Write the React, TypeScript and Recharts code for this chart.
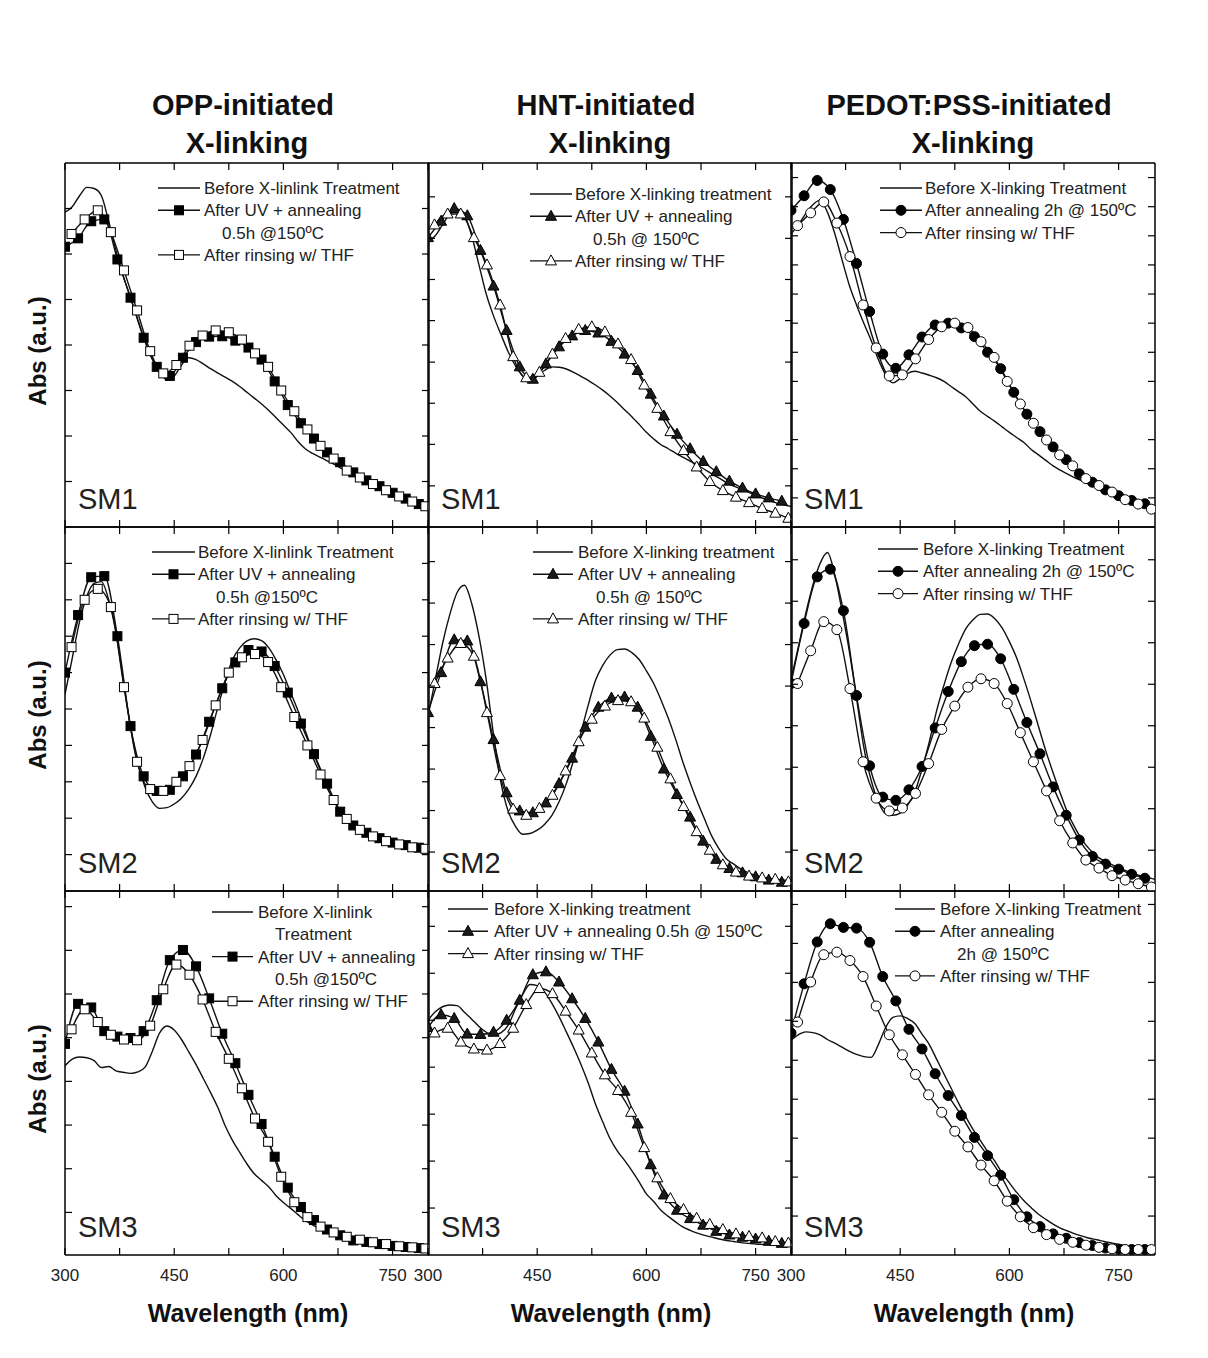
import React from 'react';
import { LineChart, Line, XAxis, YAxis } from 'recharts';

// wavelengths (nm)
const wlFine = [300, 310, 320, 330, 340, 350, 360, 370, 380, 390, 400, 410, 420, 430, 440, 450, 460, 470, 480, 490, 500, 510, 520, 530, 540, 550, 560, 570, 580, 590, 600, 610, 620, 630, 640, 650, 660, 670, 680, 690, 700, 710, 720, 730, 740, 750, 760, 770, 780, 790, 800];
const wlOdd = [300, 318, 336, 354, 372, 390, 408, 426, 444, 462, 480, 498, 516, 534, 552, 570, 588, 606, 624, 642, 660, 678, 696, 714, 732, 750, 768, 786];
const wlEven = [309, 327, 345, 363, 381, 399, 417, 435, 453, 471, 489, 507, 525, 543, 561, 579, 597, 615, 633, 651, 669, 687, 705, 723, 741, 759, 777, 795];

const xTicks = [300, 375, 450, 525, 600, 675, 750];
const xLabels = [300, 450, 600, 750];

// SM1
const opp1Before = [86.5, 88, 91, 93.3, 93, 91, 84, 76, 69, 63, 57, 51, 46, 42.5, 40.5, 41.5, 44.5, 46.5, 46, 44.8, 43.5, 42.3, 41.2, 40, 38.6, 37, 35.4, 33.8, 32, 30, 28, 26, 23.5, 21.5, 20.2, 19.2, 18.2, 17.2, 16, 14.8, 13.8, 12.8, 11.8, 11, 10.2, 9.4, 8.6, 7.8, 7, 6.2, 5.5];
const opp1Uv = [77, 79.3, 84, 84.5, 73.5, 63, 52, 44, 41.5, 46.5, 50.8, 52.3, 52.4, 51.2, 49.3, 46, 40, 33.5, 28.5, 24.3, 20.5, 17.8, 15, 12.8, 11.2, 9.4, 7.8, 6.3];
const opp1Rinse = [80.5, 84.5, 87, 81, 70.5, 59.5, 48.3, 42.2, 44.5, 49.8, 52.6, 54, 53.5, 51.5, 47.7, 44, 37.5, 31.8, 26.8, 22.3, 18.8, 15.5, 13.6, 11.8, 10.1, 8.4, 7, 5.7];

const hnt1Before = [78.5, 80, 83, 86, 86.8, 85.5, 80, 72, 64, 58, 53, 48.2, 44.3, 41.5, 40.3, 41.5, 43, 44, 43.9, 43.4, 42.5, 41.4, 40.3, 39, 37.6, 36, 34.2, 32.2, 30.3, 28.2, 26, 24.2, 22.6, 21.5, 20.3, 19.2, 18.1, 17, 15.8, 14.6, 13.4, 12.2, 11.2, 10.4, 9.6, 8.7, 7.9, 7.2, 6.5, 6, 5.6];
const hnt1Uv = [79.5, 84, 87.5, 85.5, 76, 66.2, 54, 44, 40.6, 44.8, 49.5, 52.5, 54, 53.3, 51, 47.5, 43, 36.5, 30.5, 25.5, 21.5, 18, 15.2, 12.6, 10.7, 9.1, 8, 7.1];
const hnt1Rinse = [83, 86, 86, 79.5, 72, 61, 46.8, 41, 42.5, 47.5, 51.8, 54.3, 55, 53.6, 50.3, 46, 39, 32.6, 26.2, 21, 16.5, 12.5, 10, 8.2, 6.7, 5.1, 3.8, 2.4];

const pedot1Before = [80.5, 83, 86, 88.5, 89.8, 86.5, 80.7, 73.5, 66.5, 61, 56, 51.3, 46, 41.8, 39.6, 40.8, 42.2, 42.8, 42.3, 41.7, 41, 40, 38.6, 37.2, 35.8, 33.8, 31.8, 30.4, 29, 27.5, 26, 24.6, 23.2, 21.3, 19.8, 18.3, 16.8, 15.6, 14.5, 13.5, 12.7, 11.8, 11, 10.2, 9.4, 8.6, 7.9, 7.2, 6.5, 5.8, 5.1];
const pedot1Ann = [87, 91, 95.2, 92.7, 84.5, 72.4, 59.2, 47.5, 43.6, 47.3, 52.2, 55.5, 56, 54.7, 52.3, 48, 43.5, 37, 31, 26.2, 22, 18.5, 14.6, 12.3, 10.2, 8.6, 7.3, 6.4];
const pedot1Rinse = [82.8, 86.3, 89.3, 83.5, 74.3, 61, 49.2, 41.5, 41.8, 46.2, 51.5, 55, 56, 54.8, 50.9, 46.6, 40, 33.8, 28.5, 23.9, 19.8, 16.8, 13.3, 11.4, 9.6, 7.5, 6.3, 4.9];

// SM2
const opp2Before = [54, 64, 74, 81, 84.5, 85, 80, 71, 58, 45, 35, 28.5, 24.5, 22.7, 22.9, 23.9, 25.5, 28, 31.5, 36.5, 43, 50.5, 57.5, 63.5, 66.8, 68.7, 69.3, 68.8, 66.8, 63.5, 59.5, 54.5, 49.5, 44, 38.5, 33.5, 28.5, 24.5, 21.2, 18.8, 16.8, 15.5, 14.6, 13.9, 13.4, 12.9, 12.4, 12, 11.6, 11.2, 11];
const opp2Uv = [60, 75.8, 86.2, 86.5, 70, 45.3, 31.5, 27.5, 27.8, 31.5, 37.5, 46.5, 55.7, 62.8, 66.2, 65.8, 61.8, 54.5, 46, 37.6, 29.5, 21.8, 18, 16, 14.5, 13.3, 12.6, 11.9];
const opp2Rinse = [67, 80, 83, 78, 56, 35.5, 28, 27.5, 30, 34.3, 41.5, 51, 60, 64.2, 65.1, 62.9, 56, 47.8, 40, 32, 25, 19.8, 16.8, 15, 13.7, 12.8, 12, 11.6];

const hnt2Before = [48, 58, 68, 76, 82, 84, 79, 70, 58, 43, 30, 22, 17.8, 15.6, 15.8, 16.7, 18.3, 20.7, 24.5, 29.5, 36, 43.5, 51, 57.8, 62, 64.8, 66.3, 66.5, 65.5, 63.6, 60.5, 57, 52.5, 47.5, 41.8, 35.5, 29.8, 24.5, 19.7, 15, 11.5, 8.8, 7.4, 6, 5, 4.3, 3.8, 3.4, 3.2, 3, 2.8];
const hnt2Uv = [49, 60, 69, 68.7, 57.5, 41.6, 27, 22, 21.5, 24.2, 29.5, 36.5, 45, 50.5, 53, 53.3, 50.5, 42.5, 33.5, 26.5, 20.3, 13.7, 8.7, 6.2, 5, 3.9, 3, 2.4];
const hnt2Rinse = [57, 64, 68, 64.5, 49, 31.7, 22.5, 20.8, 22.7, 26.3, 33, 41, 47.2, 50.8, 52.3, 52, 47.5, 39.5, 30.8, 23.2, 16.3, 11.2, 7.2, 5.2, 4.1, 3.6, 3.2, 2.5];

const pedot2Before = [58, 67, 76, 84, 90, 93, 87, 77, 66, 53, 39.5, 30.5, 24.5, 21.2, 20.8, 21.4, 23.5, 27.1, 33.5, 41, 49.5, 56.5, 62.8, 67.8, 72, 74.5, 76, 76.1, 74.8, 72.3, 68.5, 64, 58.2, 51.9, 45.2, 38.5, 32.5, 26.8, 21.5, 17.4, 14, 11.5, 9.5, 8.3, 7.3, 6.4, 5.6, 4.9, 4.2, 3.7, 3.2];
const pedot2Ann = [57, 73.5, 86.3, 88.4, 77, 53.7, 34.4, 25.8, 24.9, 27.8, 34.2, 44.8, 54.8, 63, 67.4, 67.8, 63.8, 55.4, 46.3, 37.7, 28.6, 20.8, 14, 9.5, 7.4, 6, 4.6, 3.5];
const pedot2Rinse = [57, 66, 74, 71.8, 55.6, 35.5, 25.5, 22, 22.8, 26.8, 35, 44.4, 50.8, 56, 58.3, 57, 51.5, 43.5, 35.5, 27.5, 19.3, 13.2, 8.5, 6.3, 4.2, 3, 2, 1.1];

// SM3
const opp3Before = [52, 53.8, 54.4, 54.2, 53.4, 51.5, 51.8, 50.6, 50.2, 49.9, 50.3, 51.6, 56, 61, 62.9, 61.8, 59.2, 55.8, 52.3, 48.5, 44.6, 40.5, 35.5, 31.5, 28.2, 25, 22.3, 20.5, 18.7, 16.3, 14.4, 12.8, 11.1, 9.5, 8.3, 7.3, 6.5, 5.8, 5.2, 4.7, 4.3, 4, 3.7, 3.3, 3, 2.8, 2.6, 2.4, 2.2, 2, 1.9];
const opp3Uv = [58, 69, 68, 61.5, 60, 59.6, 61.5, 70, 81, 83.8, 79.3, 70.5, 60.8, 52.7, 44, 36, 27, 18.5, 13.2, 9.6, 7, 5.4, 4, 3.6, 3, 2.5, 2.2, 1.9];
const opp3Rinse = [62, 67.5, 64, 60.5, 59.2, 59, 63, 73, 79.8, 77, 70.2, 61.3, 53.9, 45.8, 37.5, 31.1, 21.5, 14.5, 10.4, 7.8, 6.2, 5, 4.2, 3.5, 3, 2.4, 2.1, 1.8];

const hnt3Before = [64.5, 66.8, 68.2, 68.7, 68.5, 66.7, 64.8, 62.8, 61.2, 60.4, 61, 63.1, 67.5, 71.5, 74.3, 74, 72.3, 69.2, 65.5, 61.3, 57, 52.4, 47.3, 41.5, 36.6, 32, 28.6, 26, 23.2, 20.1, 16.8, 14.7, 12.3, 10.6, 9.1, 7.7, 6.8, 6, 5.4, 4.9, 4.4, 4, 3.7, 3.4, 3.2, 3, 2.9, 2.8, 2.6, 2.5, 2.4];
const hnt3Uv = [62.5, 66, 65, 60.7, 60.6, 61.2, 64.5, 70, 77, 77.8, 75, 70.4, 65, 58.5, 51, 45, 36, 24.8, 16.5, 12.3, 10, 8.2, 6.5, 5.5, 4.9, 4.4, 3.8, 3.2];
const hnt3Rinse = [61, 62.3, 58.5, 56.6, 56.3, 58.1, 62.3, 68.8, 73.2, 71.8, 67, 61.8, 55.5, 49.5, 45.2, 39.2, 29.5, 21.2, 15.5, 12.5, 10.1, 8.4, 7, 5.8, 5.1, 4.7, 3.7, 3.3];

const pedot3Before = [59, 60.5, 61.3, 61.1, 60.5, 59.2, 58.2, 57.1, 56, 55.1, 54.5, 54.3, 57.8, 62.5, 65.3, 65.7, 65, 63.6, 60.7, 57.8, 53.8, 49.8, 45.8, 41.8, 38, 34.5, 31.5, 28.5, 25.8, 22.5, 19.8, 17.2, 14.9, 13, 11.2, 9.8, 8.5, 7.4, 6.6, 5.8, 5.2, 4.6, 4.2, 3.7, 3.3, 2.9, 2.6, 2.3, 2, 1.8, 1.5];
const pedot3Ann = [61, 74.5, 86, 91, 90, 89.8, 85.9, 76.5, 69.8, 62, 56.6, 49.8, 43.8, 38.3, 32.3, 27.3, 21.9, 15.2, 10.5, 7.8, 5.8, 4.6, 3.4, 2.6, 1.9, 1.6, 1.5, 1.5];
const pedot3Rinse = [64, 75, 82.5, 83.2, 80.9, 76.5, 68.4, 60.5, 55, 49.6, 44, 39.2, 34, 29.7, 24.7, 20.4, 14.8, 10.5, 7.5, 5.6, 4.3, 3.5, 2.7, 2.1, 1.7, 1.5, 1.5, 1.5];

const columnTitles = [['OPP-initiated', 'X-linking'], ['HNT-initiated', 'X-linking'], ['PEDOT:PSS-initiated', 'X-linking']];
const sampleNames = ['SM1', 'SM2', 'SM3'];

const FONT = '"Liberation Sans", Arial, Helvetica, sans-serif';
const COL_LEFT = [65, 428, 791];
const ROW_TOP = [163, 527, 891];
const SIZE = 364;
const TICK = 7;

type Shape = 'square' | 'triangle' | 'circle';
type Kind = 'before' | 'treated' | 'rinsed' | null;
interface LegendRow { kind: Kind; text: string; tx?: number }
interface PanelDef {
  row: number; col: number; shape: Shape;
  before: number[]; treated: number[]; rinsed: number[];
  yTicks: number[];
  legend: { x: number; w: number; tx: number; y: number; rows: LegendRow[] };
}

const oppRows: LegendRow[] = [
  { kind: 'before', text: 'Before X-linlink Treatment' },
  { kind: 'treated', text: 'After UV + annealing' },
  { kind: null, text: '0.5h @150ºC', tx: 18 },
  { kind: 'rinsed', text: 'After rinsing w/ THF' },
];
const hntRows: LegendRow[] = [
  { kind: 'before', text: 'Before X-linking treatment' },
  { kind: 'treated', text: 'After UV + annealing' },
  { kind: null, text: '0.5h @ 150ºC', tx: 18 },
  { kind: 'rinsed', text: 'After rinsing w/ THF' },
];
const pedotRows: LegendRow[] = [
  { kind: 'before', text: 'Before X-linking Treatment' },
  { kind: 'treated', text: 'After annealing 2h @ 150ºC' },
  { kind: 'rinsed', text: 'After rinsing w/ THF' },
];

const panels: PanelDef[] = [
  { row: 0, col: 0, shape: 'square', before: opp1Before, treated: opp1Uv, rinsed: opp1Rinse,
    yTicks: [12.5, 25, 37.5, 50, 62.5, 75, 87.5],
    legend: { x: 93, w: 42, tx: 139, y: 25, rows: oppRows } },
  { row: 0, col: 1, shape: 'triangle', before: hnt1Before, treated: hnt1Uv, rinsed: hnt1Rinse,
    yTicks: [11.3, 22.7, 34, 45.3, 56.7, 68, 79.3, 90.7],
    legend: { x: 102, w: 42, tx: 147, y: 31, rows: hntRows } },
  { row: 0, col: 2, shape: 'circle', before: pedot1Before, treated: pedot1Ann, rinsed: pedot1Rinse,
    yTicks: [8, 16, 24, 32, 40, 48, 56, 64, 72, 80, 88, 96],
    legend: { x: 89, w: 42, tx: 134, y: 25, rows: pedotRows } },
  { row: 1, col: 0, shape: 'square', before: opp2Before, treated: opp2Uv, rinsed: opp2Rinse,
    yTicks: [10, 20, 30, 40, 50, 60, 70, 80, 90],
    legend: { x: 87, w: 43, tx: 133, y: 25, rows: oppRows } },
  { row: 1, col: 1, shape: 'triangle', before: hnt2Before, treated: hnt2Uv, rinsed: hnt2Rinse,
    yTicks: [10.7, 22.1, 33.5, 44.9, 56.3, 67.7, 79.1, 90.5],
    legend: { x: 105, w: 40, tx: 150, y: 25, rows: hntRows } },
  { row: 1, col: 2, shape: 'circle', before: pedot2Before, treated: pedot2Ann, rinsed: pedot2Rinse,
    yTicks: [11.2, 22.6, 34, 45.4, 56.8, 68.2, 79.6, 91],
    legend: { x: 87, w: 40, tx: 132, y: 22, rows: pedotRows } },
  { row: 2, col: 0, shape: 'square', before: opp3Before, treated: opp3Uv, rinsed: opp3Rinse,
    yTicks: [11.7, 23.7, 35.7, 47.7, 59.7, 71.7, 83.7, 95.7],
    legend: { x: 147, w: 41, tx: 193, y: 21, rows: [
      { kind: 'before', text: 'Before X-linlink' },
      { kind: null, text: 'Treatment', tx: 17 },
      { kind: 'treated', text: 'After UV + annealing' },
      { kind: null, text: '0.5h @150ºC', tx: 17 },
      { kind: 'rinsed', text: 'After rinsing w/ THF' },
    ] } },
  { row: 2, col: 1, shape: 'triangle', before: hnt3Before, treated: hnt3Uv, rinsed: hnt3Rinse,
    yTicks: [12.9, 25.8, 38.7, 51.6, 64.5, 77.4, 90.3],
    legend: { x: 20, w: 40, tx: 66, y: 18, rows: [
      { kind: 'before', text: 'Before X-linking treatment' },
      { kind: 'treated', text: 'After UV + annealing 0.5h @ 150ºC' },
      { kind: 'rinsed', text: 'After rinsing w/ THF' },
    ] } },
  { row: 2, col: 2, shape: 'circle', before: pedot3Before, treated: pedot3Ann, rinsed: pedot3Rinse,
    yTicks: [10.7, 21.4, 32.1, 42.8, 53.5, 64.2, 74.9, 85.6, 96.3],
    legend: { x: 104, w: 40, tx: 149, y: 18, rows: [
      { kind: 'before', text: 'Before X-linking Treatment' },
      { kind: 'treated', text: 'After annealing' },
      { kind: null, text: '2h @ 150ºC', tx: 17 },
      { kind: 'rinsed', text: 'After rinsing w/ THF' },
    ] } },
];

function Mark({ shape, filled, cx, cy }: { shape: Shape; filled: boolean; cx: number; cy: number }) {
  if (cx == null || cy == null) return null;
  const fill = filled ? '#000' : '#fff';
  if (shape === 'square') {
    return <rect x={cx - 4.5} y={cy - 4.5} width={9} height={9} fill={fill} stroke="#000" strokeWidth={1} />;
  }
  if (shape === 'circle') {
    return <circle cx={cx} cy={cy} r={5} fill={fill} stroke="#000" strokeWidth={1} />;
  }
  return (
    <polygon
      points={`${cx},${cy - 6} ${cx + 5.5},${cy + 4} ${cx - 5.5},${cy + 4}`}
      fill={filled ? '#1a1a1a' : '#fff'}
      stroke="#000"
      strokeWidth={1}
    />
  );
}

const zip = (xs: number[], ys: number[]) => xs.map((wl, i) => ({ wl, v: ys[i] }));

// axes are 1px thick so Recharts still renders them; ticks are drawn inward by hand
function BottomTick(props: any) {
  const { x, y, payload, showLabel } = props;
  return (
    <g>
      <line x1={x} y1={y} x2={x} y2={y - TICK} stroke="#000" strokeWidth={1.2} />
      {showLabel && xLabels.includes(payload.value) && (
        <text x={x} y={y + 26} textAnchor="middle" fontSize={17} fontFamily={FONT} fill="#222">
          {payload.value}
        </text>
      )}
    </g>
  );
}
function TopTick(props: any) {
  const { x, y } = props;
  return <line x1={x} y1={y} x2={x} y2={y + TICK} stroke="#000" strokeWidth={1.2} />;
}
function LeftTick(props: any) {
  const { x, y } = props;
  return <line x1={x} y1={y} x2={x + TICK} y2={y} stroke="#000" strokeWidth={1.2} />;
}
function RightTick(props: any) {
  const { x, y } = props;
  return <line x1={x} y1={y} x2={x - TICK} y2={y} stroke="#000" strokeWidth={1.2} />;
}

const frame = { stroke: '#000', strokeWidth: 1.5 };

function Panel({ p }: { p: PanelDef }) {
  const bottomRow = p.row === 2;
  const m = { top: 3, right: 20, bottom: bottomRow ? 40 : 3, left: 20 };
  return (
    <div style={{ position: 'absolute', left: COL_LEFT[p.col] - m.left - 1, top: ROW_TOP[p.row] - m.top - 1 }}>
      <LineChart width={SIZE + m.left + m.right + 2} height={SIZE + m.top + m.bottom + 2} margin={m}>
        <XAxis xAxisId="b" type="number" dataKey="wl" domain={[300, 800]} ticks={xTicks} interval={0}
          height={1} tickSize={0} tickMargin={0} tickLine={false} axisLine={frame} allowDataOverflow
          tick={(t: any) => <BottomTick {...t} showLabel={bottomRow} />} />
        <XAxis xAxisId="t" orientation="top" type="number" dataKey="wl" domain={[300, 800]} ticks={xTicks} interval={0}
          height={1} tickSize={0} tickMargin={0} tickLine={false} axisLine={frame} allowDataOverflow
          tick={(t: any) => <TopTick {...t} />} />
        <YAxis yAxisId="l" type="number" domain={[0, 100]} ticks={p.yTicks} interval={0}
          width={1} tickSize={0} tickMargin={0} tickLine={false} axisLine={frame} allowDataOverflow
          tick={(t: any) => <LeftTick {...t} />} />
        <YAxis yAxisId="r" orientation="right" type="number" domain={[0, 100]} ticks={p.yTicks} interval={0}
          width={1} tickSize={0} tickMargin={0} tickLine={false} axisLine={frame} allowDataOverflow
          tick={(t: any) => <RightTick {...t} />} />
        <Line xAxisId="t" yAxisId="r" data={zip(wlFine, p.before)} dataKey="v" type="monotone"
          stroke="#111" strokeWidth={1.4} dot={false} isAnimationActive={false} />
        <Line xAxisId="b" yAxisId="l" data={zip(wlOdd, p.treated)} dataKey="v" type="monotone"
          stroke="#111" strokeWidth={1.4} isAnimationActive={false}
          dot={(d: any) => <Mark key={`f${d.index}`} shape={p.shape} filled cx={d.cx} cy={d.cy} />} />
        <Line xAxisId="b" yAxisId="l" data={zip(wlEven, p.rinsed)} dataKey="v" type="monotone"
          stroke="#111" strokeWidth={1.4} isAnimationActive={false}
          dot={(d: any) => <Mark key={`o${d.index}`} shape={p.shape} filled={false} cx={d.cx} cy={d.cy} />} />
      </LineChart>
    </div>
  );
}

function PanelLegend({ p }: { p: PanelDef }) {
  const ox = COL_LEFT[p.col];
  const oy = ROW_TOP[p.row];
  const L = p.legend;
  return (
    <g transform={`translate(${ox},${oy})`}>
      {L.rows.map((r, i) => {
        const y = L.y + i * 22.3;
        return (
          <g key={i}>
            {r.kind && <line x1={L.x} y1={y} x2={L.x + L.w} y2={y} stroke="#111" strokeWidth={1.4} />}
            {r.kind === 'treated' && <Mark shape={p.shape} filled cx={L.x + L.w / 2} cy={y} />}
            {r.kind === 'rinsed' && <Mark shape={p.shape} filled={false} cx={L.x + L.w / 2} cy={y} />}
            <text x={L.tx + (r.tx || 0)} y={y + 6} fontSize={17} fontFamily={FONT} fill="#222">{r.text}</text>
          </g>
        );
      })}
      <text x={13} y={SIZE - 18} fontSize={29} fontFamily={FONT} fill="#222">{sampleNames[p.row]}</text>
    </g>
  );
}

export default function App() {
  return (
    <div style={{ position: 'relative', width: 1208, height: 1358, background: '#fff', overflow: 'hidden' }}>
      <style>{'body{margin:0}'}</style>
      {panels.map((p, i) => <Panel key={i} p={p} />)}
      <svg width={1208} height={1358} style={{ position: 'absolute', left: 0, top: 0, pointerEvents: 'none' }}>
        {columnTitles.map((t, c) => (
          <g key={c}>
            <text x={COL_LEFT[c] + SIZE / 2 - 4} y={115} textAnchor="middle" fontSize={29} fontWeight="bold" fontFamily={FONT} fill="#111">{t[0]}</text>
            <text x={COL_LEFT[c] + SIZE / 2} y={153} textAnchor="middle" fontSize={29} fontWeight="bold" fontFamily={FONT} fill="#111">{t[1]}</text>
            <text x={COL_LEFT[c] + SIZE / 2 + 1} y={1322} textAnchor="middle" fontSize={25} fontWeight="bold" fontFamily={FONT} fill="#111">Wavelength (nm)</text>
          </g>
        ))}
        {ROW_TOP.map((top, r) => (
          <text key={r} transform={`translate(46,${top + SIZE / 2 + 6}) rotate(-90)`} textAnchor="middle"
            fontSize={24} fontWeight="bold" fontFamily={FONT} fill="#111">Abs (a.u.)</text>
        ))}
        {panels.map((p, i) => <PanelLegend key={i} p={p} />)}
      </svg>
    </div>
  );
}
